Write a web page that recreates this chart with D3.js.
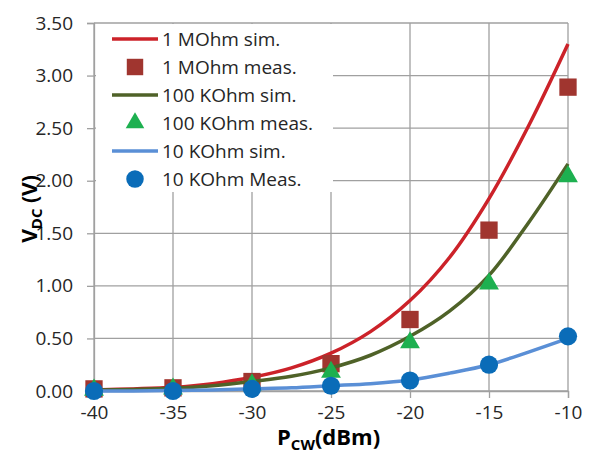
<!DOCTYPE html>
<html>
<head>
<meta charset="UTF-8">
<title>VDC vs PCW</title>
<script src="https://cdnjs.cloudflare.com/ajax/libs/d3/7.8.5/d3.min.js"></script>
<style>
  body { margin: 0; background: #fff; }
  svg { display: block; }
  .tick text { font-family: "Open Sans", sans-serif; font-size: 19px; fill: #262626; }
  .axis-title { font-family: "Open Sans", sans-serif; font-weight: bold; fill: #000; }
  .legend text { font-family: "Open Sans", sans-serif; font-size: 19px; fill: #262626; }
</style>
</head>
<body>
<div id="chart"></div>
<script>
// measured points (every 5 dBm)
const power = [-40, -35, -30, -25, -20, -15, -10];
const meas1M = [0.02, 0.03, 0.09, 0.26, 0.68, 1.53, 2.89];
const meas100k = [0.01, 0.02, 0.06, 0.18, 0.46, 1.02, 2.04];
const meas10k = [0.00, 0.00, 0.02, 0.05, 0.10, 0.25, 0.52];

// simulated curves, read every 2.5 dBm
const simPower = [-40, -37.5, -35, -32.5, -30, -27.5, -25, -22.5, -20, -17.5, -15, -12.5, -10];
const sim1M = [0.01, 0.02, 0.035, 0.07, 0.13, 0.22, 0.36, 0.565, 0.86, 1.27, 1.83, 2.52, 3.30];
const sim100k = [0.01, 0.015, 0.025, 0.05, 0.09, 0.14, 0.22, 0.34, 0.52, 0.76, 1.10, 1.60, 2.16];
const sim10k = [0.00, 0.00, 0.005, 0.01, 0.02, 0.03, 0.05, 0.07, 0.105, 0.17, 0.25, 0.37, 0.50];

const xTicks = [-40, -35, -30, -25, -20, -15, -10];
const yTicks = [0, 0.5, 1, 1.5, 2, 2.5, 3, 3.5];

const legendLabels = ["1 MOhm sim.", "1 MOhm meas.", "100 KOhm sim.", "100 KOhm meas.", "10 KOhm sim.", "10 KOhm Meas."];

const width = 593, height = 451;
const margin = {top: 23, right: 25, bottom: 60, left: 94};

const svg = d3.select("#chart").append("svg")
  .attr("width", width)
  .attr("height", height);

const x = d3.scaleLinear().domain([-40, -10]).range([margin.left, width - margin.right]);
const y = d3.scaleLinear().domain([0, 3.5]).range([height - margin.bottom, margin.top]);

const gridColor = "#a0a0a0";

// gridlines
svg.append("g").selectAll("line").data(yTicks).join("line")
  .attr("x1", x(-40)).attr("x2", x(-10))
  .attr("y1", d => y(d)).attr("y2", d => y(d))
  .attr("stroke", gridColor).attr("stroke-width", 1.3);
svg.append("g").selectAll("line").data(xTicks).join("line")
  .attr("x1", d => x(d)).attr("x2", d => x(d))
  .attr("y1", y(0)).attr("y2", y(3.5))
  .attr("stroke", gridColor).attr("stroke-width", 1.3);

// axes
const yAxis = svg.append("g")
  .attr("transform", `translate(${x(-40)},0)`)
  .call(d3.axisLeft(y).tickValues(yTicks).tickFormat(d3.format(".2f")).tickSize(7).tickPadding(14));
const xAxis = svg.append("g")
  .attr("transform", `translate(0,${y(0)})`)
  .call(d3.axisBottom(x).tickValues(xTicks).tickFormat(d => d).tickSize(7).tickPadding(8));
[yAxis, xAxis].forEach(g => {
  g.select(".domain").attr("stroke", gridColor).attr("stroke-width", 1.3);
  g.selectAll(".tick line").attr("stroke", gridColor).attr("stroke-width", 1.3);
});

// axis titles
const yt = svg.append("text").attr("class", "axis-title")
  .attr("transform", `translate(37,${y(1.75) + 2}) rotate(-90)`)
  .attr("text-anchor", "middle").style("font-size", "21px");
yt.append("tspan").text("V");
yt.append("tspan").attr("dy", 5).style("font-size", "15px").text("DC");
yt.append("tspan").attr("dy", -5).text(" (V)");

const xt = svg.append("text").attr("class", "axis-title")
  .attr("x", 277).attr("y", 445).style("font-size", "22px");
xt.append("tspan").text("P");
xt.append("tspan").attr("dy", 5).style("font-size", "15px").text("CW");
xt.append("tspan").attr("dy", -5).text("(dBm)");

// series
const colors = {
  sim1M: "#cc2229", meas1M: "#a0352f",
  sim100k: "#4f6228", meas100k: "#1db050",
  sim10k: "#5a8fd6", meas10k: "#0a6cb8"
};

const line = d3.line().x(d => x(d[0])).y(d => y(d[1])).curve(d3.curveCatmullRom.alpha(0.5));

const drawSim = (vals, color) => {
  svg.append("path")
    .datum(simPower.map((p, i) => [p, vals[i]]))
    .attr("d", line)
    .attr("fill", "none")
    .attr("stroke", color)
    .attr("stroke-width", 3.5);
};
const drawMeas = (vals, color, shape) => {
  svg.append("g").selectAll("path").data(power.map((p, i) => [p, vals[i]])).join("path")
    .attr("transform", d => `translate(${x(d[0])},${y(d[1])})`)
    .attr("d", shape)
    .attr("fill", color);
};

const squareShape = d3.symbol().type(d3.symbolSquare).size(300)();
const triShape = d3.symbol().type(d3.symbolTriangle).size(170)();
const circleShape = d3.symbol().type(d3.symbolCircle).size(260)();

drawSim(sim1M, colors.sim1M);
drawMeas(meas1M, colors.meas1M, squareShape);
drawSim(sim100k, colors.sim100k);
drawMeas(meas100k, colors.meas100k, triShape);
drawSim(sim10k, colors.sim10k);
drawMeas(meas10k, colors.meas10k, circleShape);

// legend
const legend = svg.append("g").attr("class", "legend");
legend.append("rect")
  .attr("x", 96).attr("y", 24).attr("width", 237).attr("height", 168)
  .attr("fill", "#fff");

const legendItems = [
  {type: "line", color: colors.sim1M},
  {type: "mark", color: colors.meas1M, shape: d3.symbol().type(d3.symbolSquare).size(270)()},
  {type: "line", color: colors.sim100k},
  {type: "mark", color: colors.meas100k, shape: d3.symbol().type(d3.symbolTriangle).size(150)()},
  {type: "line", color: colors.sim10k},
  {type: "mark", color: colors.meas10k, shape: d3.symbol().type(d3.symbolCircle).size(240)()}
];

legendItems.forEach((item, i) => {
  const cy = 39 + i * 28;
  const g = legend.append("g");
  if (item.type === "line") {
    g.append("line").attr("x1", 112).attr("x2", 158).attr("y1", cy).attr("y2", cy)
      .attr("stroke", item.color).attr("stroke-width", 3.5);
  } else {
    g.append("path").attr("transform", `translate(135,${cy})`).attr("d", item.shape).attr("fill", item.color);
  }
  g.append("text").attr("x", 162).attr("y", cy + 7).text(legendLabels[i]);
});
</script>
</body>
</html>
